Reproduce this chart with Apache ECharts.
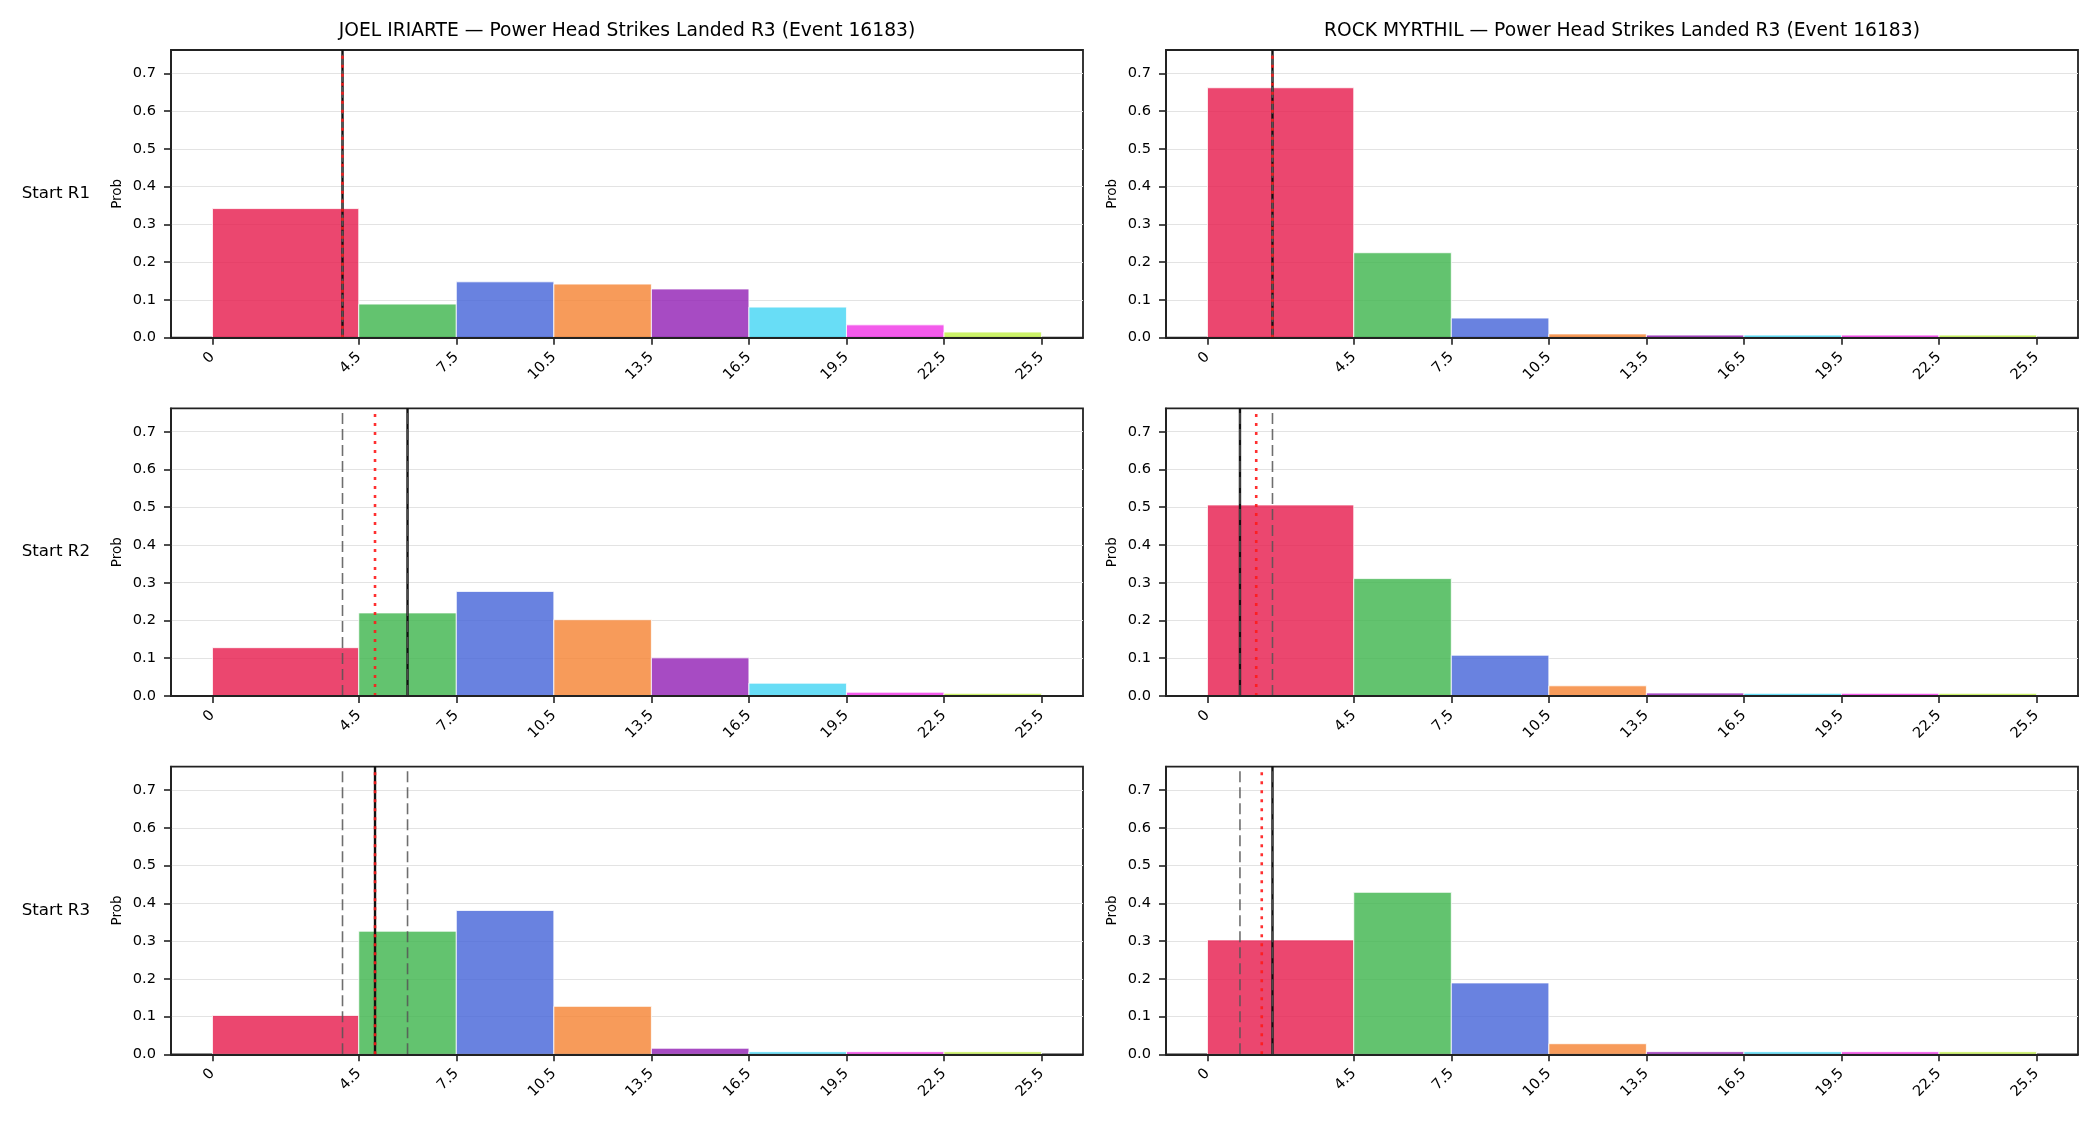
<!DOCTYPE html>
<html>
<head>
<meta charset="utf-8">
<title>Power Head Strikes Landed R3</title>
<script src="https://cdn.jsdelivr.net/npm/echarts@6.0.0/dist/echarts.min.js"></script>
<style>
    html, body { margin: 0; padding: 0; background: #fff; }
    #chart { width: 2100px; height: 1125px; }
</style>
</head>
<body>
<div id="chart"></div>
<script>
// bin edges of the histogram (first bin is wider)
var binEdges = [0, 4.5, 7.5, 10.5, 13.5, 16.5, 19.5, 22.5, 25.5];
var xTicks = [0, 4.5, 7.5, 10.5, 13.5, 16.5, 19.5, 22.5, 25.5];
var yTicks = [0, 0.1, 0.2, 0.3, 0.4, 0.5, 0.6, 0.7];
var binColors = ['#e6194B', '#3cb44b', '#4363d8', '#f58231', '#911eb4', '#42d4f4', '#f032e6', '#bfef45'];

var fighters = ['JOEL IRIARTE', 'ROCK MYRTHIL'];
var rowNames = ['Start R1', 'Start R2', 'Start R3'];

// probabilities per bin, one array per panel
var joelR1 = [0.342, 0.089, 0.148, 0.142, 0.129, 0.081, 0.034, 0.015];
var joelR2 = [0.128, 0.220, 0.277, 0.202, 0.101, 0.034, 0.010, 0.007];
var joelR3 = [0.103, 0.326, 0.381, 0.127, 0.016, 0.007, 0.007, 0.007];
var rockR1 = [0.662, 0.225, 0.052, 0.010, 0.007, 0.007, 0.007, 0.007];
var rockR2 = [0.506, 0.311, 0.108, 0.027, 0.008, 0.007, 0.007, 0.007];
var rockR3 = [0.303, 0.429, 0.189, 0.028, 0.007, 0.007, 0.007, 0.007];

// reference lines: solid black, red dotted, dashed low / high
var joelSolid = [4, 6, 5];
var joelDotted = [4, 5, 5];
var joelDashLo = [4, 4, 4];
var joelDashHi = [4, 6, 6];
var rockSolid = [2, 1, 2];
var rockDotted = [2, 1.5, 1.67];
var rockDashLo = [2, 1, 1];
var rockDashHi = [2, 2, 2];

var panels = [
    [joelR1, rockR1],
    [joelR2, rockR2],
    [joelR3, rockR3]
];
var solidLines = [joelSolid, rockSolid];
var dottedLines = [joelDotted, rockDotted];
var dashLoLines = [joelDashLo, rockDashLo];
var dashHiLines = [joelDashHi, rockDashHi];

var yMax = 0.762;
var xMin = -1.275, xMax = 26.775;
var FONT = 'DejaVu Sans';

var colLeft = [171, 1166];
var rowTop = [50, 408.3, 766.6];
var gridW = 912, gridH = 287.7;

var grids = [], xAxes = [], yAxes = [], series = [], graphics = [];

var vline = function (idx, x, style, z) {
    series.push({
        type: 'line',
        xAxisIndex: idx,
        yAxisIndex: idx,
        data: [[x, 0], [x, yMax]],
        showSymbol: false,
        silent: true,
        z: z,
        lineStyle: style
    });
};

for (var r = 0; r < 3; r++) {
    for (var c = 0; c < 2; c++) {
        var idx = grids.length;
        grids.push({
            left: colLeft[c], top: rowTop[r], width: gridW, height: gridH,
            show: true, borderColor: '#222', borderWidth: 1.8, backgroundColor: 'transparent'
        });
        // x axis sits above the bars, like the bottom spine
        xAxes.push({
            type: 'value', gridIndex: idx, min: xMin, max: xMax, z: 10,
            axisLine: { show: true, onZero: false, lineStyle: { color: '#222', width: 1.8 } },
            axisTick: { show: true, customValues: xTicks, length: 7, lineStyle: { color: '#222', width: 1.6 } },
            axisLabel: {
                customValues: xTicks, rotate: 45, margin: 17,
                fontFamily: FONT, fontSize: 14.6, color: '#000'
            },
            splitLine: { show: false }
        });
        yAxes.push({
            type: 'value', gridIndex: idx, min: 0, max: yMax,
            name: 'Prob', nameLocation: 'middle', nameGap: 47,
            nameTextStyle: { fontFamily: FONT, fontSize: 13.5, color: '#000' },
            axisLine: { show: true, onZero: false, lineStyle: { color: '#222', width: 1.8 } },
            axisTick: { show: true, customValues: yTicks, length: 7, lineStyle: { color: '#222', width: 1.6 } },
            axisLabel: {
                customValues: yTicks, margin: 15,
                fontFamily: FONT, fontSize: 14.6, color: '#000',
                formatter: function (v) { return v.toFixed(1); }
            },
            splitLine: { show: true, lineStyle: { color: '#e3e3e3', width: 1.2 } }
        });

        var vals = panels[r][c];
        var bars = [];
        for (var i = 0; i < vals.length; i++) {
            bars.push([binEdges[i], binEdges[i + 1], vals[i]]);
        }
        series.push({
            type: 'custom',
            xAxisIndex: idx,
            yAxisIndex: idx,
            data: bars,
            encode: { x: [0, 1], y: 2 },
            silent: true,
            z: 2,
            renderItem: function (params, api) {
                var p0 = api.coord([api.value(0), api.value(2)]);
                var p1 = api.coord([api.value(1), 0]);
                return {
                    type: 'rect',
                    shape: { x: p0[0], y: p0[1], width: p1[0] - p0[0], height: p1[1] - p0[1] },
                    style: { fill: binColors[params.dataIndex], opacity: 0.8, stroke: '#fff', lineWidth: 1 }
                };
            }
        });

        vline(idx, solidLines[c][r], { color: '#111', width: 2.4, type: 'solid' }, 3);
        vline(idx, dashLoLines[c][r], { color: '#555', width: 1.6, type: [11, 5], opacity: 0.85 }, 4);
        vline(idx, dashHiLines[c][r], { color: '#555', width: 1.6, type: [11, 5], opacity: 0.85 }, 4);
        vline(idx, dottedLines[c][r], { color: '#ff1a1a', width: 2.6, type: [3, 6], opacity: 0.9 }, 5);
    }
}

// column titles and row labels
for (var c2 = 0; c2 < 2; c2++) {
    graphics.push({
        type: 'text',
        style: {
            text: fighters[c2] + ' \u2014 Power Head Strikes Landed R3 (Event 16183)',
            x: colLeft[c2] + gridW / 2, y: 31,
            textAlign: 'center', textVerticalAlign: 'middle',
            font: '18.7px "DejaVu Sans"', fill: '#000'
        }
    });
}
for (var r2 = 0; r2 < 3; r2++) {
    graphics.push({
        type: 'text',
        style: {
            text: rowNames[r2],
            x: 90, y: rowTop[r2] + gridH / 2,
            textAlign: 'right', textVerticalAlign: 'middle',
            font: '16.7px "DejaVu Sans"', fill: '#000'
        }
    });
}

var chart = echarts.init(document.getElementById('chart'), null, { renderer: 'canvas' });
chart.setOption({
    animation: false,
    backgroundColor: '#fff',
    grid: grids,
    xAxis: xAxes,
    yAxis: yAxes,
    series: series,
    graphic: graphics
});
</script>
</body>
</html>
